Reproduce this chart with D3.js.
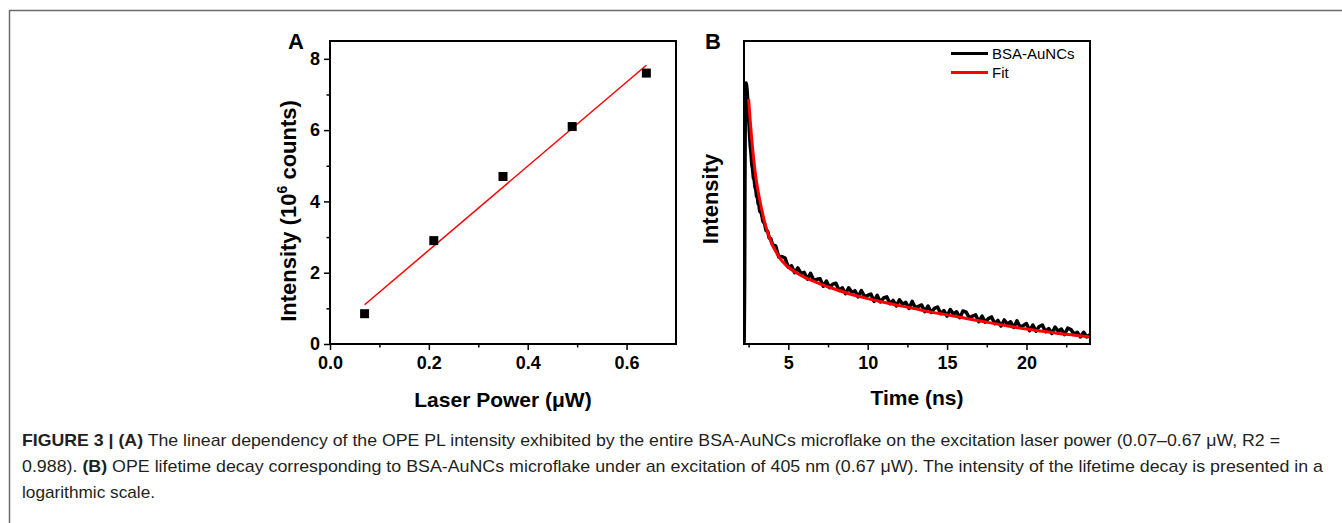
<!DOCTYPE html>
<html>
<head>
<meta charset="utf-8">
<script src="https://cdn.jsdelivr.net/npm/d3@7"></script>
<style>
  body { margin: 0; background: #fff; }
  text { font-family: "Liberation Sans", Arial, sans-serif; }
  .tick text { font-size: 18px; font-weight: bold; fill: #000; }
  .tick line { stroke: #000; stroke-width: 1.5; }
</style>
</head>
<body>
<div id="chart"></div>
<script>

// panel A : intensity vs laser power
var powerValues = [ 0.07, 0.21, 0.35, 0.49, 0.64 ];
var intensityValues = [ 0.85, 2.9, 4.7, 6.1, 7.6 ];
var fitPower = [ 0.07, 0.64 ];
var fitIntensity = [ 1.1, 7.82 ];
var powerTicks = [ 0.0, 0.2, 0.4, 0.6 ];
var powerMinorTicks = [ 0.1, 0.3, 0.5 ];
var intensityTicks = [ 0, 2, 4, 6, 8 ];
var intensityMinorTicks = [ 1, 3, 5, 7 ];

// panel B : lifetime decay (counts, log scale)
var decayTime = [ 2.22, 2.25, 2.27, 2.29, 2.31, 2.34, 2.37, 2.40, 2.44, 2.48, 2.52, 2.56, 2.60, 2.65, 2.70, 2.75,
  2.80, 2.85, 2.90, 2.95, 3.00, 3.05, 3.10, 3.15, 3.20, 3.30, 3.40, 3.50, 3.60, 3.70, 3.80, 3.90, 4.00,
  4.2, 4.4, 4.6, 4.8, 5.0, 5.2, 5.4, 5.6, 5.8, 6.0, 6.2, 6.4, 6.6, 6.8, 7.0, 7.2, 7.4, 7.6, 7.8,
  8.0, 8.2, 8.4, 8.6, 8.8, 9.0, 9.2, 9.4, 9.6, 9.8, 10.0, 10.2, 10.4, 10.6, 10.8, 11.0, 11.2, 11.4, 11.6, 11.8,
  12.0, 12.2, 12.4, 12.6, 12.8, 13.0, 13.2, 13.4, 13.6, 13.8, 14.0, 14.2, 14.4, 14.6, 14.8, 15.0, 15.2, 15.4, 15.6, 15.8,
  16.0, 16.2, 16.4, 16.6, 16.8, 17.0, 17.2, 17.4, 17.6, 17.8, 18.0, 18.2, 18.4, 18.6, 18.8, 19.0, 19.2, 19.4, 19.6, 19.8,
  20.0, 20.2, 20.4, 20.6, 20.8, 21.0, 21.2, 21.4, 21.6, 21.8, 22.0, 22.2, 22.4, 22.6, 22.8, 23.0, 23.2, 23.4, 23.6, 23.8, 24.0 ];
var decayCounts = [ 82, 250, 1500, 5500, 8600, 9300, 8900, 8300, 7000, 5600, 4500, 3600, 3000, 2600, 2100, 1950,
  1650, 1600, 1400, 1340, 1180, 1160, 1030, 1010, 900, 870, 750, 720, 630, 625, 550, 545, 490,
  479, 391, 394, 383, 324, 333, 293, 320, 290, 295, 261, 290, 256, 260, 263, 229, 252, 223, 238,
  242, 212, 223, 200, 223, 205, 211, 189, 212, 190, 194, 199, 174, 194, 172, 185, 189, 167, 177, 160,
  179, 165, 171, 153, 174, 155, 159, 163, 144, 160, 142, 153, 157, 139, 147, 133, 150, 138, 144, 129,
  146, 143, 129, 133, 136, 120, 133, 119, 127, 131, 116, 123, 111, 124, 115, 120, 108, 122, 109, 112,
  116, 102, 113, 101, 110, 113, 100, 106, 97, 109, 101, 105, 95, 107, 104, 96, 99, 91, 99, 91, 95 ];
var fitTime = [ 2.5, 2.6, 2.7, 2.8, 2.9, 3.0, 3.125, 3.25, 3.375, 3.5, 3.75, 4.0, 4.25, 4.5, 4.75, 5.0, 5.5, 6, 6.5, 7, 7.5, 8,
  9, 10, 11, 12, 13, 14, 15, 16, 17, 18, 19, 20, 21, 22, 23, 24 ];
var fitCounts = [ 6940, 4700, 3300, 2450, 1900, 1530, 1240, 1030, 870, 745, 585, 485, 424, 378, 347, 324, 293, 271, 254, 239, 227, 216,
  197, 183, 171, 161, 152, 143, 136, 129, 122, 116, 110, 105, 101, 97, 94, 91 ];
var timeTicks = [ 5, 10, 15, 20 ];
var timeMinorTicks = [ 2.5, 7.5, 12.5, 17.5, 22.5 ];
var legendLabels = [ "BSA-AuNCs", "Fit" ];
var legendColors = [ "#000", "#ff0000" ];

var width = 1342;
var height = 523;

var svg = d3.select( "#chart" )
    .append( "svg" )
    .attr( "width", width )
    .attr( "height", height );

// figure border
svg.append( "path" )
    .attr( "d", "M9.5," + height + "V10.5H" + width )
    .attr( "fill", "none" )
    .attr( "stroke", "#6b6b6b" )
    .attr( "stroke-width", 1.5 );

var plotTop = 41, plotBottom = 344;

// ---------- panel A ----------
var xA = d3.scaleLinear().domain( [0, 0.7] ).range( [330, 676] );
var yA = d3.scaleLinear().domain( [0, 8.5] ).range( [plotBottom, plotTop] );

var gA = svg.append( "g" );

gA.append( "g" )
    .attr( "transform", "translate(0," + plotBottom + ")" )
    .call( d3.axisBottom( xA ).tickValues( powerTicks ).tickFormat( d3.format( ".1f" ) ).tickSize( 6 ).tickPadding( 6 ) )
    .call( function(g){ g.select( ".domain" ).remove(); } );
gA.append( "g" )
    .attr( "transform", "translate(0," + plotBottom + ")" )
    .call( d3.axisBottom( xA ).tickValues( powerMinorTicks ).tickFormat( "" ).tickSize( 3.5 ) )
    .call( function(g){ g.select( ".domain" ).remove(); } );
gA.append( "g" )
    .attr( "transform", "translate(330,0)" )
    .call( d3.axisLeft( yA ).tickValues( intensityTicks ).tickSize( 6 ).tickPadding( 4 ) )
    .call( function(g){ g.select( ".domain" ).remove(); } );
gA.append( "g" )
    .attr( "transform", "translate(330,0)" )
    .call( d3.axisLeft( yA ).tickValues( intensityMinorTicks ).tickFormat( "" ).tickSize( 3.5 ) )
    .call( function(g){ g.select( ".domain" ).remove(); } );

gA.append( "rect" )
    .attr( "x", 330 ).attr( "y", plotTop )
    .attr( "width", 676 - 330 ).attr( "height", plotBottom - plotTop )
    .attr( "fill", "none" ).attr( "stroke", "#000" ).attr( "stroke-width", 2 );

gA.append( "path" )
    .datum( d3.zip( fitPower, fitIntensity ) )
    .attr( "fill", "none" )
    .attr( "stroke", "#ff0000" )
    .attr( "stroke-width", 1.5 )
    .attr( "d", d3.line().x( function(d){ return xA( d[0] ); } ).y( function(d){ return yA( d[1] ); } ) );

gA.selectAll( "rect.pt" )
    .data( d3.zip( powerValues, intensityValues ) )
    .enter()
    .append( "rect" )
    .attr( "class", "pt" )
    .attr( "x", function(d){ return xA( d[0] ) - 4.5; } )
    .attr( "y", function(d){ return yA( d[1] ) - 4.5; } )
    .attr( "width", 9 ).attr( "height", 9 )
    .attr( "fill", "#000" );

gA.append( "text" )
    .attr( "x", 288 ).attr( "y", 49 )
    .attr( "font-size", 22 ).attr( "font-weight", "bold" )
    .text( "A" );

gA.append( "text" )
    .attr( "x", 503 ).attr( "y", 407 )
    .attr( "text-anchor", "middle" )
    .attr( "font-size", 21 ).attr( "font-weight", "bold" )
    .text( "Laser Power (\u03bcW)" );

var yTitleA = gA.append( "text" )
    .attr( "transform", "translate(296,211) rotate(-90)" )
    .attr( "text-anchor", "middle" )
    .attr( "font-size", 22 ).attr( "font-weight", "bold" );
yTitleA.append( "tspan" ).text( "Intensity (10" );
yTitleA.append( "tspan" ).attr( "dy", -9 ).attr( "font-size", 14 ).text( "6" );
yTitleA.append( "tspan" ).attr( "dy", 9 ).text( " counts)" );

// ---------- panel B ----------
var xB = d3.scaleLinear().domain( [2.21, 24] ).range( [744, 1090] );
var yB = d3.scaleLog().domain( [80, 20000] ).range( [plotBottom, plotTop] );

var gB = svg.append( "g" );

gB.append( "g" )
    .attr( "transform", "translate(0," + plotBottom + ")" )
    .call( d3.axisBottom( xB ).tickValues( timeTicks ).tickFormat( d3.format( "d" ) ).tickSize( 6 ).tickPadding( 6 ) )
    .call( function(g){ g.select( ".domain" ).remove(); } );
gB.append( "g" )
    .attr( "transform", "translate(0," + plotBottom + ")" )
    .call( d3.axisBottom( xB ).tickValues( timeMinorTicks ).tickFormat( "" ).tickSize( 3.5 ) )
    .call( function(g){ g.select( ".domain" ).remove(); } );

gB.append( "clipPath" )
    .attr( "id", "clipB" )
    .append( "rect" )
    .attr( "x", 744 ).attr( "y", plotTop )
    .attr( "width", 1090 - 744 ).attr( "height", plotBottom - plotTop );

var lineB = d3.line()
    .x( function(d){ return xB( d[0] ); } )
    .y( function(d){ return yB( d[1] ); } );

gB.append( "path" )
    .datum( d3.zip( decayTime, decayCounts ) )
    .attr( "clip-path", "url(#clipB)" )
    .attr( "fill", "none" )
    .attr( "stroke", "#000" )
    .attr( "stroke-width", 3.5 )
    .attr( "stroke-linejoin", "round" )
    .attr( "d", lineB );

gB.append( "path" )
    .datum( d3.zip( fitTime, fitCounts ) )
    .attr( "clip-path", "url(#clipB)" )
    .attr( "fill", "none" )
    .attr( "stroke", "#ff0000" )
    .attr( "stroke-width", 3 )
    .attr( "d", lineB.curve( d3.curveMonotoneX ) );

gB.append( "rect" )
    .attr( "x", 744 ).attr( "y", plotTop )
    .attr( "width", 1090 - 744 ).attr( "height", plotBottom - plotTop )
    .attr( "fill", "none" ).attr( "stroke", "#000" ).attr( "stroke-width", 2 );

var legend = gB.selectAll( "g.legend" )
    .data( legendLabels )
    .enter()
    .append( "g" )
    .attr( "class", "legend" )
    .attr( "transform", function(d, i){ return "translate(951," + ( 53.5 + i * 19 ) + ")"; } );
legend.append( "line" )
    .attr( "x1", 0 ).attr( "x2", 37 )
    .attr( "stroke", function(d, i){ return legendColors[i]; } )
    .attr( "stroke-width", 3 );
legend.append( "text" )
    .attr( "x", 41 ).attr( "y", 5.5 )
    .attr( "font-size", 15 )
    .text( function(d){ return d; } );

gB.append( "text" )
    .attr( "x", 705 ).attr( "y", 49 )
    .attr( "font-size", 22 ).attr( "font-weight", "bold" )
    .text( "B" );

gB.append( "text" )
    .attr( "x", 917 ).attr( "y", 405 )
    .attr( "text-anchor", "middle" )
    .attr( "font-size", 21 ).attr( "font-weight", "bold" )
    .text( "Time (ns)" );

gB.append( "text" )
    .attr( "transform", "translate(718,199) rotate(-90)" )
    .attr( "text-anchor", "middle" )
    .attr( "font-size", 22 ).attr( "font-weight", "bold" )
    .text( "Intensity" );

// ---------- caption ----------
var captionLines = [
  [ [ "FIGURE 3 | (A)", true ], [ " The linear dependency of the OPE PL intensity exhibited by the entire BSA-AuNCs microflake on the excitation laser power (0.07\u20130.67 \u03bcW, R2 =", false ] ],
  [ [ "0.988). ", false ], [ "(B)", true ], [ " OPE lifetime decay corresponding to BSA-AuNCs microflake under an excitation of 405 nm (0.67 \u03bcW). The intensity of the lifetime decay is presented in a", false ] ],
  [ [ "logarithmic scale.", false ] ]
];
var captionWidths = [ 1258, 1301, 133 ];

var caption = svg.selectAll( "text.caption" )
    .data( captionLines )
    .enter()
    .append( "text" )
    .attr( "class", "caption" )
    .attr( "x", 22 )
    .attr( "y", function(d, i){ return 446 + i * 26; } )
    .attr( "font-size", 17 )
    .attr( "fill", "#231f20" )
    .style( "font-family", "'Liberation Sans Narrow', 'Liberation Sans', Arial, sans-serif" )
    .attr( "textLength", function(d, i){ return captionWidths[i]; } )
    .attr( "lengthAdjust", "spacingAndGlyphs" );

caption.selectAll( "tspan" )
    .data( function(d){ return d; } )
    .enter()
    .append( "tspan" )
    .attr( "font-weight", function(d){ return d[1] ? "bold" : "normal"; } )
    .text( function(d){ return d[0]; } );

</script>
</body>
</html>
